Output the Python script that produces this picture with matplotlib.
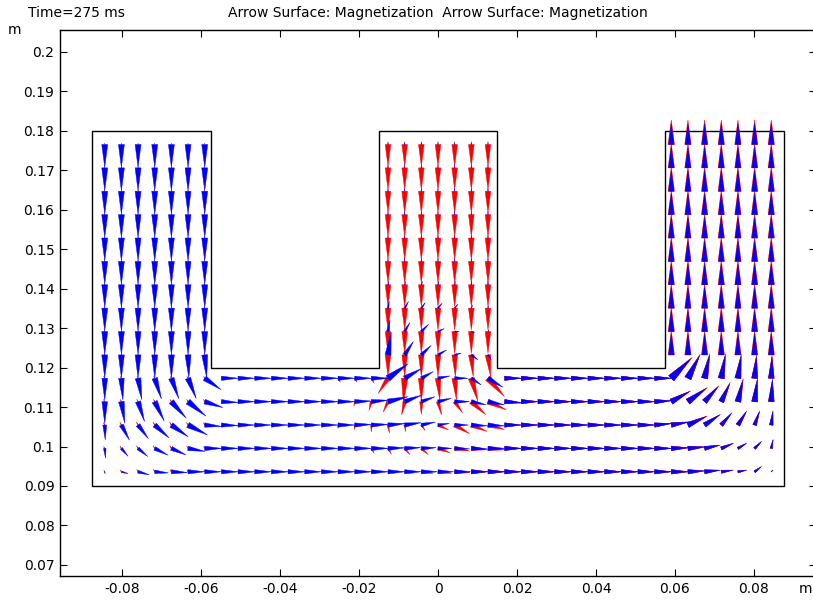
import numpy as np
import matplotlib
matplotlib.use("Agg")
import matplotlib.pyplot as plt
from matplotlib.collections import PolyCollection

# ---------------- data ----------------
# arrow sample grid (tails); columns k=-20..20, rows j=0..14
X_SAMPLES = np.linspace(-0.084375, 0.084375, 41)
Y_SAMPLES = np.linspace(0.0936, 0.1765, 15)
YOKE_ROWS = [0, 1, 2, 3, 4]
LEG_ROWS = [5, 6, 7, 8, 9, 10, 11, 12, 13, 14]
LEG_COLS = [0, 1, 2, 3, 4, 5, 6, 17, 18, 19, 20, 21, 22, 23, 34, 35, 36, 37, 38, 39, 40]

# geometry outline (E-core)
CORE_X = [-0.0875, 0.0875, 0.0875, 0.0575, 0.0575, 0.015, 0.015, -0.015, -0.015, -0.0575, -0.0575, -0.0875]
CORE_Y = [0.09, 0.09, 0.18, 0.18, 0.12, 0.12, 0.18, 0.18, 0.12, 0.12, 0.18, 0.18]

# blue field: angle (deg) and relative magnitude; yoke rows have 41 columns
BLUE_YOKE_ANG = [
    [-80, -15, -15, -5, -3, 0, 0,  0, 0, 0, 0, 0, 0, 0, 0, 0, 0,  0, 0, 0, 0, 0, 0, 0,  0, 0, 0, 0, 0, 0, 0, 0, 0, 0,  0, 3, 6, 8, 11, 37, 45],
    [-85, -50, -40, -27, -24, -10, 0,  0, 0, 0, 0, 0, 0, 0, 0, 0, 0,  2, 3, 3, 0, -2, -2, 0,  0, 0, 0, 0, 0, 0, 0, 0, 0, 0,  2, 5, 12, 23, 31, 45, 78],
    [-88, -62, -53, -42, -35, -27, -5,  -2, 0, 0, 0, 0, 0, 0, 0, 2, 2,  5, 8, 12, 8, 0, -3, -3,  0, 0, 0, 0, 0, 0, 0, 0, 0, 5,  10, 25, 34, 49, 58, 70, 83],
    [-90, -81, -72, -64, -48, -39, -18,  -3, 0, 0, 0, 0, 0, 0, 0, 2, 5,  14, 21, 20, 14, 0, -12, -11,  -3, 0, 0, 0, 0, 0, 0, 0, 0, 3,  29, 36, 48, 65, 77, 83, 87],
    [-90, -86, -80, -72, -70, -68, -35,  0, 0, 0, 0, 0, 0, 0, 0, 0, 0,  36, 30, 29, 11, 0, -34, -31,  0, 0, 0, 0, 0, 0, 0, 0, 0, 0,  45, 63, 78, 80, 82, 85, 88],
]
BLUE_YOKE_MAG = [
    [0.10, 0.30, 0.50, 0.60, 0.70, 0.72, 0.72,  0.73, 0.73, 0.73, 0.73, 0.73, 0.73, 0.73, 0.73, 0.73, 0.73,  0.73, 0.72, 0.70, 0.68, 0.70, 0.72, 0.73,  0.73, 0.73, 0.73, 0.73, 0.73, 0.73, 0.73, 0.73, 0.72, 0.72,  0.72, 0.70, 0.65, 0.50, 0.37, 0.36, 0.10],
    [0.43, 0.45, 0.55, 0.65, 0.70, 0.75, 0.75,  0.73, 0.73, 0.73, 0.73, 0.73, 0.73, 0.73, 0.73, 0.73, 0.73,  0.73, 0.70, 0.65, 0.60, 0.65, 0.70, 0.72,  0.73, 0.73, 0.73, 0.73, 0.73, 0.73, 0.73, 0.73, 0.73, 0.73,  0.73, 0.72, 0.66, 0.55, 0.42, 0.41, 0.37],
    [0.65, 0.75, 0.75, 0.85, 0.90, 0.95, 0.75,  0.73, 0.73, 0.73, 0.73, 0.73, 0.73, 0.73, 0.73, 0.73, 0.73,  0.75, 0.72, 0.62, 0.50, 0.60, 0.70, 0.72,  0.73, 0.73, 0.73, 0.73, 0.73, 0.73, 0.73, 0.73, 0.73, 0.73,  0.75, 0.87, 0.78, 0.66, 0.68, 0.61, 0.58],
    [0.95, 0.95, 0.91, 0.94, 0.97, 1.00, 0.83,  0.73, 0.73, 0.73, 0.73, 0.73, 0.73, 0.73, 0.73, 0.73, 0.73,  0.90, 0.78, 0.63, 0.60, 0.65, 0.66, 0.73,  0.73, 0.73, 0.73, 0.73, 0.73, 0.73, 0.73, 0.73, 0.73, 0.73,  0.90, 0.97, 0.86, 0.86, 0.95, 0.95, 0.93],
    [0.95, 0.95, 0.95, 0.95, 0.95, 0.95, 0.87,  0.73, 0.73, 0.73, 0.73, 0.73, 0.73, 0.73, 0.73, 0.73, 0.73,  1.08, 0.85, 0.60, 0.53, 0.58, 0.52, 0.76,  0.73, 0.73, 0.73, 0.73, 0.73, 0.73, 0.73, 0.73, 0.73, 0.73,  1.20, 1.10, 1.03, 1.00, 0.97, 0.95, 0.93],
]
# leg rows: 7 left-leg, 7 middle-leg, 7 right-leg columns
BLUE_LEG_ANG = [
    [-90, -90, -90, -90, -90, -88, -85,  82, 57, 44, 30, 14, -37, -56,  90, 90, 90, 90, 90, 90, 90],
    [-90, -90, -90, -90, -90, -90, -90,  80, 60, 45, 25, 0, -20, 60,  90, 90, 90, 90, 90, 90, 90],
    [-90, -90, -90, -90, -90, -90, -90,  80, 60, 55, 50, 50, 70, 85,  90, 90, 90, 90, 90, 90, 90],
    [-90, -90, -90, -90, -90, -90, -90,  80, 75, 70, 75, 80, 85, 90,  90, 90, 90, 90, 90, 90, 90],
    [-90, -90, -90, -90, -90, -90, -90,  90, 90, 90, 90, 90, 90, 90,  90, 90, 90, 90, 90, 90, 90],
    [-90, -90, -90, -90, -90, -90, -90,  90, 90, 90, 90, 90, 90, 90,  90, 90, 90, 90, 90, 90, 90],
    [-90, -90, -90, -90, -90, -90, -90,  90, 90, 90, 90, 90, 90, 90,  90, 90, 90, 90, 90, 90, 90],
    [-90, -90, -90, -90, -90, -90, -90,  90, 90, 90, 90, 90, 90, 90,  90, 90, 90, 90, 90, 90, 90],
    [-90, -90, -90, -90, -90, -90, -90,  90, 90, 90, 90, 90, 90, 90,  90, 90, 90, 90, 90, 90, 90],
    [-90, -90, -90, -90, -90, -90, -90,  90, 90, 90, 90, 90, 90, 90,  90, 90, 90, 90, 90, 90, 90],
]
BLUE_LEG_MAG = [
    [1.0, 1.0, 1.0, 1.0, 1.0, 1.0, 1.0,  1.00, 0.70, 0.60, 0.43, 0.30, 0.36, 0.26,  0.9, 0.9, 0.9, 0.9, 0.9, 0.9, 0.9],
    [1.0, 1.0, 1.0, 1.0, 1.0, 1.0, 1.0,  0.50, 0.45, 0.45, 0.30, 0.20, 0.15, 0.10,  0.9, 0.9, 0.9, 0.9, 0.9, 0.9, 0.9],
    [1.0, 1.0, 1.0, 1.0, 1.0, 1.0, 1.0,  0.30, 0.33, 0.30, 0.28, 0.22, 0.15, 0.12,  0.9, 0.9, 0.9, 0.9, 0.9, 0.9, 0.9],
    [1.0, 1.0, 1.0, 1.0, 1.0, 1.0, 1.0,  0.15, 0.15, 0.15, 0.15, 0.15, 0.15, 0.15,  0.9, 0.9, 0.9, 0.9, 0.9, 0.9, 0.9],
    [1.0, 1.0, 1.0, 1.0, 1.0, 1.0, 1.0,  0.12, 0.12, 0.12, 0.12, 0.12, 0.12, 0.12,  0.9, 0.9, 0.9, 0.9, 0.9, 0.9, 0.9],
    [1.0, 1.0, 1.0, 1.0, 1.0, 1.0, 1.0,  0.12, 0.12, 0.12, 0.12, 0.12, 0.12, 0.12,  0.9, 0.9, 0.9, 0.9, 0.9, 0.9, 0.9],
    [1.0, 1.0, 1.0, 1.0, 1.0, 1.0, 1.0,  0.12, 0.12, 0.12, 0.12, 0.12, 0.12, 0.12,  0.9, 0.9, 0.9, 0.9, 0.9, 0.9, 0.9],
    [1.0, 1.0, 1.0, 1.0, 1.0, 1.0, 1.0,  0.12, 0.12, 0.12, 0.12, 0.12, 0.12, 0.12,  0.9, 0.9, 0.9, 0.9, 0.9, 0.9, 0.9],
    [1.0, 1.0, 1.0, 1.0, 1.0, 1.0, 1.0,  0.12, 0.12, 0.12, 0.12, 0.12, 0.12, 0.12,  0.9, 0.9, 0.9, 0.9, 0.9, 0.9, 0.9],
    [1.0, 1.0, 1.0, 1.0, 1.0, 1.0, 1.0,  0.12, 0.12, 0.12, 0.12, 0.12, 0.12, 0.12,  0.9, 0.9, 0.9, 0.9, 0.9, 0.9, 0.9],
]

# red field
RED_YOKE_ANG = [
    [120, 120, 120, 120, 120, 120, 120,  -20, -20, -20, -20, -20, -20, -20, -20, -20, -20,  -10, -8, -8, -6, -3, 0, 0,  0, 0, 0, 0, 0, 0, 0, 0, 0, 0,  0, 3, 6, 8, 11, 37, 45],
    [120, 120, 120, 120, 120, 120, 120,  -45, -45, -45, -45, -45, -45, -45, -45, -60, -60,  -60, -50, -42, -20, -10, -5, -5,  0, 0, 0, 0, 0, 0, 0, 0, 0, 0,  2, 5, 12, 23, 31, 45, 78],
    [120, 120, 120, 120, 120, 120, 120,  -90, -90, -90, -90, -90, -90, -90, -90, -90, -90,  -80, -80, -55, -25, -30, -22, -15,  0, 0, 0, 0, 0, 0, 0, 0, 0, 5,  10, 25, 34, 49, 58, 70, 83],
    [120, 120, 120, 120, 120, 120, 120,  -90, -90, -90, -90, -90, -90, -90, -90, -100, -105,  -115, -103, -90, -75, -55, -42, -24,  -5, 0, 0, 0, 0, 0, 0, 0, 0, 3,  29, 36, 48, 65, 77, 83, 87],
    [120, 120, 120, 120, 120, 120, 120,  -60, -60, -60, -60, -60, -60, -60, -60, -60, -60,  -123, -93, -90, -85, -85, -74, -48,  0, 0, 0, 0, 0, 0, 0, 0, 0, 0,  45, 63, 78, 80, 82, 85, 88],
]
RED_YOKE_MAG = [
    [0.08, 0.10, 0.12, 0.12, 0.12, 0.10, 0.08,  0.05, 0.05, 0.05, 0.05, 0.05, 0.05, 0.05, 0.05, 0.10, 0.20,  0.30, 0.40, 0.50, 0.60, 0.68, 0.72, 0.74,  0.74, 0.74, 0.74, 0.74, 0.74, 0.74, 0.74, 0.74, 0.74, 0.74,  0.78, 0.76, 0.70, 0.54, 0.40, 0.39, 0.11],
    [0.10, 0.12, 0.14, 0.14, 0.14, 0.12, 0.10,  0.05, 0.05, 0.05, 0.05, 0.05, 0.05, 0.05, 0.05, 0.15, 0.25,  0.30, 0.35, 0.40, 0.55, 0.65, 0.70, 0.74,  0.74, 0.74, 0.74, 0.74, 0.74, 0.74, 0.74, 0.74, 0.74, 0.74,  0.79, 0.78, 0.71, 0.59, 0.45, 0.44, 0.40],
    [0.12, 0.14, 0.15, 0.15, 0.15, 0.14, 0.12,  0.05, 0.05, 0.05, 0.05, 0.05, 0.05, 0.05, 0.15, 0.20, 0.30,  0.35, 0.30, 0.30, 0.50, 0.75, 0.75, 0.74,  0.74, 0.74, 0.74, 0.74, 0.74, 0.74, 0.74, 0.74, 0.74, 0.74,  0.81, 0.94, 0.84, 0.71, 0.73, 0.66, 0.63],
    [0.12, 0.12, 0.12, 0.12, 0.12, 0.12, 0.12,  0.05, 0.05, 0.05, 0.05, 0.05, 0.05, 0.05, 0.12, 0.20, 0.40,  0.50, 0.60, 0.56, 0.60, 0.60, 0.85, 0.87,  0.75, 0.74, 0.74, 0.74, 0.74, 0.74, 0.74, 0.74, 0.74, 0.74,  0.97, 1.05, 0.93, 0.93, 1.03, 1.03, 1.00],
    [0.10, 0.10, 0.10, 0.10, 0.10, 0.10, 0.10,  0.03, 0.03, 0.03, 0.03, 0.03, 0.03, 0.03, 0.20, 0.20, 0.25,  0.78, 1.08, 1.00, 0.95, 0.95, 1.04, 1.07,  0.74, 0.74, 0.74, 0.74, 0.74, 0.74, 0.74, 0.74, 0.74, 0.74,  1.30, 1.19, 1.11, 1.08, 1.05, 1.03, 1.00],
]
RED_LEG_ANG = [
    [90, 90, 90, 90, 90, 90, 90,  -90, -90, -90, -90, -88, -85, -83,  90, 90, 90, 90, 90, 90, 90],
    [90, 90, 90, 90, 90, 90, 90,  -90, -90, -90, -90, -90, -90, -90,  90, 90, 90, 90, 90, 90, 90],
    [90, 90, 90, 90, 90, 90, 90,  -90, -90, -90, -90, -90, -90, -90,  90, 90, 90, 90, 90, 90, 90],
    [90, 90, 90, 90, 90, 90, 90,  -90, -90, -90, -90, -90, -90, -90,  90, 90, 90, 90, 90, 90, 90],
    [90, 90, 90, 90, 90, 90, 90,  -90, -90, -90, -90, -90, -90, -90,  90, 90, 90, 90, 90, 90, 90],
    [90, 90, 90, 90, 90, 90, 90,  -90, -90, -90, -90, -90, -90, -90,  90, 90, 90, 90, 90, 90, 90],
    [90, 90, 90, 90, 90, 90, 90,  -90, -90, -90, -90, -90, -90, -90,  90, 90, 90, 90, 90, 90, 90],
    [90, 90, 90, 90, 90, 90, 90,  -90, -90, -90, -90, -90, -90, -90,  90, 90, 90, 90, 90, 90, 90],
    [90, 90, 90, 90, 90, 90, 90,  -90, -90, -90, -90, -90, -90, -90,  90, 90, 90, 90, 90, 90, 90],
    [90, 90, 90, 90, 90, 90, 90,  -90, -90, -90, -90, -90, -90, -90,  90, 90, 90, 90, 90, 90, 90],
]
RED_LEG_MAG = [
    [0.05, 0.05, 0.05, 0.05, 0.05, 0.05, 0.05,  0.95, 0.95, 0.95, 0.95, 0.95, 0.95, 0.95,  1.07, 1.07, 1.07, 1.07, 1.07, 1.07, 1.07],
] * 10

X_TICKS = [-0.08, -0.06, -0.04, -0.02, 0, 0.02, 0.04, 0.06, 0.08]
Y_TICKS = [0.07, 0.08, 0.09, 0.1, 0.11, 0.12, 0.13, 0.14, 0.15, 0.16, 0.17, 0.18, 0.19, 0.2]
X_LIM = (-0.0957, 0.0957)
Y_LIM = (0.0672, 0.2055)

# ---------------- drawing ----------------
ARROW_SCALE = 0.0058   # data length of an arrow of relative magnitude 1
HALF_WIDTH = 0.13      # cone half-width as fraction of length


def field_points(yoke_ang, yoke_mag, leg_ang, leg_mag):
    pts = []
    for r, j in enumerate(YOKE_ROWS):
        for i in range(len(X_SAMPLES)):
            pts.append((X_SAMPLES[i], Y_SAMPLES[j], yoke_ang[r][i], yoke_mag[r][i]))
    for r, j in enumerate(LEG_ROWS):
        for c, i in enumerate(LEG_COLS):
            pts.append((X_SAMPLES[i], Y_SAMPLES[j], leg_ang[r][c], leg_mag[r][c]))
    return pts


def cones(pts):
    polys = []
    for x, y, a, m in pts:
        L = m * ARROW_SCALE
        if L <= 0:
            continue
        t = np.deg2rad(a)
        d = np.array([np.cos(t), np.sin(t)])
        p = np.array([-d[1], d[0]])
        tail = np.array([x, y])
        hw = HALF_WIDTH * L
        polys.append([tail + hw * p, tail + L * d, tail - hw * p])
    return polys


fig = plt.figure(figsize=(8.13, 6.0), dpi=100)
ax = fig.add_axes([60 / 813, 24 / 600, 756 / 813, 546 / 600])

ax.fill(CORE_X, CORE_Y, facecolor="white", edgecolor="black", linewidth=1.0, zorder=1)

red = PolyCollection(cones(field_points(RED_YOKE_ANG, RED_YOKE_MAG, RED_LEG_ANG, RED_LEG_MAG)),
                     facecolor=(1, 0, 0), edgecolor=(1, 0, 0), linewidth=0.3, zorder=2)
blue = PolyCollection(cones(field_points(BLUE_YOKE_ANG, BLUE_YOKE_MAG, BLUE_LEG_ANG, BLUE_LEG_MAG)),
                      facecolor=(0, 0, 1), edgecolor=(0, 0, 1), linewidth=0.3, zorder=3)
ax.add_collection(red)
ax.add_collection(blue)

ax.set_xlim(*X_LIM)
ax.set_ylim(*Y_LIM)
ax.set_xticks(X_TICKS)
ax.set_yticks(Y_TICKS)
ax.set_xticklabels([f"{v:g}" for v in X_TICKS])
ax.set_yticklabels([f"{v:g}" for v in Y_TICKS])
ax.tick_params(direction="in", length=5, width=0.8, top=True, right=True,
               labelsize=10, pad=4)
for s in ax.spines.values():
    s.set_linewidth(1.0)

fig.text(28 / 813, 1 - 13 / 600, "Time=275 ms", ha="left", va="center", fontsize=10)
fig.text(438 / 813, 1 - 13 / 600, "Arrow Surface: Magnetization  Arrow Surface: Magnetization",
         ha="center", va="center", fontsize=10)
fig.text(14 / 813, 1 - 30 / 600, "m", ha="center", va="center", fontsize=10)
fig.text(812 / 813, 1 - 589 / 600, "m", ha="right", va="center", fontsize=10)

fig.savefig("out.png", dpi=100)
